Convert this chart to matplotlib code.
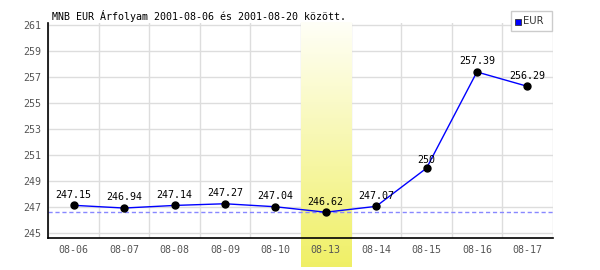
import matplotlib

matplotlib.use("Agg")
import matplotlib.pyplot as plt
import numpy as np
from matplotlib.patches import Rectangle

DATES = ["08-06", "08-07", "08-08", "08-09", "08-10",
         "08-13", "08-14", "08-15", "08-16", "08-17"]
EUR = [247.15, 246.94, 247.14, 247.27, 247.04,
       246.62, 247.07, 250.00, 257.39, 256.29]
LABELS = ["247.15", "246.94", "247.14", "247.27", "247.04",
          "246.62", "247.07", "250", "257.39", "256.29"]
YTICKS = [245, 247, 249, 251, 253, 255, 257, 259, 261]
HIGHLIGHT = "08-13"
TITLE = "MNB EUR Árfolyam 2001-08-06 és 2001-08-20 között."

W, H = 600, 270
FONT = "DejaVu Sans Mono"
FS = 7.2


def px(x0, y0, x1, y1):
    # pixel box (top-left origin) -> figure fraction rect
    return [x0 / W, 1 - y1 / H, (x1 - x0) / W, (y1 - y0) / H]


def main() -> None:
    fig = plt.figure(figsize=(W / 100, H / 100), dpi=100)
    ax = fig.add_axes(px(48.5, 23, 552.5, 238))

    ylo, yhi = 244.64, 261.15
    x = np.arange(len(DATES))

    # grid
    for v in YTICKS:
        ax.axhline(v, color="#dddddd", lw=1, zorder=1)
    for b in np.arange(len(DATES) + 1) - 0.5:
        ax.axvline(b, color="#dddddd", lw=1, zorder=1)

    # highlighted day: vertical gradient running past the axes
    hi = DATES.index(HIGHLIGHT)
    band_lo = 245 - (267 - 233.3) / 13.0
    grad = np.linspace(0, 1, 256)[:, None]
    top = np.array([1.0, 1.0, 0.97])
    bot = np.array([0.94, 0.94, 0.40])
    img = (1 - grad)[:, :, None] * bot + grad[:, :, None] * top
    img = img[::-1]
    ax.imshow(img, extent=(hi - 0.5, hi + 0.5, band_lo, yhi),
              aspect="auto", origin="upper", zorder=2, clip_on=False)

    ax.axhline(min(EUR), color="#8888ff", lw=1, ls=(0, (3, 2)), zorder=3)
    ax.plot(x, EUR, color="#0000ff", lw=1, zorder=4)
    ax.plot(x, EUR, "o", color="black", ms=5, zorder=5)
    for xi, v, lab in zip(x, EUR, LABELS):
        off = 2 if lab == "250" else 4
        ax.annotate(lab, (xi, v), xytext=(0, off), textcoords="offset points",
                    ha="center", va="bottom", fontsize=FS, family=FONT,
                    color="black", zorder=6)

    ax.set_xlim(-0.5, len(DATES) - 0.5)
    ax.set_ylim(ylo, yhi)
    ax.set_xticks(x)
    ax.set_xticklabels(DATES)
    ax.set_yticks(YTICKS)
    ax.tick_params(length=0, labelsize=FS, colors="#555555", pad=5)
    for lbl in ax.get_xticklabels() + ax.get_yticklabels():
        lbl.set_family(FONT)
    ax.xaxis.set_zorder(8)
    ax.yaxis.set_zorder(8)
    for s in ("top", "right"):
        ax.spines[s].set_visible(False)
    for s in ("left", "bottom"):
        ax.spines[s].set_color("black")
        ax.spines[s].set_linewidth(1.2)
        ax.spines[s].set_zorder(7)
    ax.patch.set_alpha(0)

    fig.text(52 / W, 1 - 16 / H, TITLE, fontsize=FS, family=FONT,
             va="center", ha="left")

    # legend box
    fig.patches.append(Rectangle((511 / W, 1 - 31 / H), 41 / W, 20 / H,
                                 transform=fig.transFigure, fc="white",
                                 ec="#cccccc", lw=1))
    fig.patches.append(Rectangle((515 / W, 1 - 25 / H), 6 / W, 6 / H,
                                 transform=fig.transFigure, fc="#0000ff",
                                 ec="#333333", lw=0.6))
    fig.text(523 / W, 1 - 21.5 / H, "EUR", fontsize=FS, family="DejaVu Sans",
             va="center", ha="left", color="#333333")

    fig.savefig("out.png", dpi=100)
    plt.close(fig)


if __name__ == "__main__":
    main()
